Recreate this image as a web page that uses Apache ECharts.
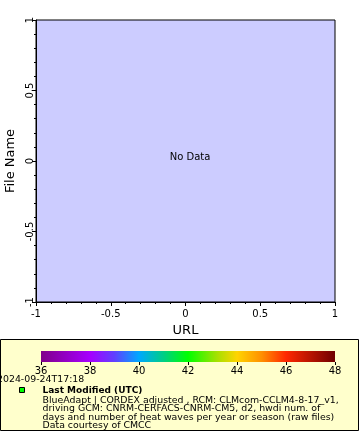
<!DOCTYPE html>
<html><head><meta charset="utf-8">
<script src="https://cdn.jsdelivr.net/npm/echarts@6/dist/echarts.min.js"></script>
<style>html,body{margin:0;padding:0;background:#fff}#c{width:360px;height:440px}</style>
</head><body><div id="c"></div>
<script>
// Data
const xTicks = [-1, -0.5, 0, 0.5, 1];
const yTicks = [-1, -0.5, 0, 0.5, 1];
const colorbarTicks = [36, 38, 40, 42, 44, 46, 48];
const colorbarRange = [36, 48];
const colorStops = [
  [0.000, '#80008a'], [0.167, '#a600ff'], [0.250, '#6040ff'], [0.333, '#00a8ff'],
  [0.420, '#00d080'], [0.500, '#00ff00'], [0.600, '#a8e000'], [0.667, '#ffd400'],
  [0.750, '#ff9000'], [0.833, '#ff2800'], [1.000, '#700000']
];
const infoLines = [
  'BlueAdapt | CORDEX adjusted , RCM: CLMcom-CCLM4-8-17_v1,',
  'driving GCM: CNRM-CERFACS-CNRM-CM5, d2, hwdi num. of',
  'days and number of heat waves per year or season (raw files)',
  'Data courtesy of CMCC'
];
const FONT = 'DejaVu Sans';
const chart = echarts.init(document.getElementById('c'), null, {renderer: 'canvas'});
const fmt = v => String(v);
const graphics = [
  {type: 'rect', z: -10, shape: {x: 0.5, y: 339.5, width: 358, height: 91}, style: {fill: '#ffffcc', stroke: '#000', lineWidth: 1}},
  {type: 'text', x: 190, y: 157, style: {text: 'No Data', font: '10px "' + FONT + '"', fill: '#000', align: 'center', verticalAlign: 'middle'}},
  {type: 'text', x: -3, y: 379.5, style: {text: '2024-09-24T17:18', font: '9.4px "' + FONT + '"', fill: '#000', align: 'left', verticalAlign: 'middle'}},
  {type: 'rect', shape: {x: 19.5, y: 387.5, width: 5, height: 5}, style: {fill: '#00ff00', stroke: '#000', lineWidth: 1}},
  {type: 'text', x: 42.5, y: 390.5, style: {text: 'Last Modified (UTC)', font: 'bold 9px "' + FONT + '"', fill: '#000', align: 'left', verticalAlign: 'middle'}}
];
infoLines.forEach((t, i) => graphics.push({type: 'text', x: 42.5, y: 400.5 + i * 8.4, style: {text: t, font: '9.4px "' + FONT + '"', fill: '#000', align: 'left', verticalAlign: 'middle'}}));

const gridBase = {outerBoundsMode: 'none', containLabel: false};
chart.setOption({
  animation: false,
  backgroundColor: '#fff',
  textStyle: {fontFamily: FONT},
  grid: [
    Object.assign({left: 36, top: 20, width: 299, height: 282, show: true, backgroundColor: '#ccccff', borderColor: '#000', borderWidth: 1}, gridBase),
    Object.assign({left: 41, top: 351, width: 294, height: 11, show: false}, gridBase)
  ],
  xAxis: [
    {type: 'value', gridIndex: 0, min: xTicks[0], max: xTicks[xTicks.length - 1], interval: 0.5,
     name: 'URL', nameLocation: 'middle', nameGap: 21, nameTextStyle: {fontSize: 13, color: '#000', fontFamily: FONT},
     axisLine: {show: true, onZero: false, lineStyle: {color: '#000'}},
     axisTick: {show: true, length: 4, lineStyle: {color: '#000'}},
     minorTick: {show: true, splitNumber: 5, length: 2, lineStyle: {color: '#000'}},
     splitLine: {show: false},
     axisLabel: {fontSize: 10, color: '#000', margin: 7, formatter: fmt, fontFamily: FONT}},
    {type: 'value', gridIndex: 1, min: colorbarRange[0], max: colorbarRange[1], interval: 2,
     axisLine: {show: false, onZero: false},
     axisTick: {show: true, length: 3, lineStyle: {color: '#000'}},
     splitLine: {show: false},
     axisLabel: {fontSize: 10, color: '#000', margin: 4, fontFamily: FONT}}
  ],
  yAxis: [
    {type: 'value', gridIndex: 0, min: yTicks[0], max: yTicks[yTicks.length - 1], interval: 0.5,
     name: 'File Name', nameLocation: 'middle', nameGap: 14, nameTextStyle: {fontSize: 13, color: '#000', fontFamily: FONT},
     axisLine: {show: true, onZero: false, lineStyle: {color: '#000'}},
     axisTick: {show: true, length: 4, lineStyle: {color: '#000'}},
     minorTick: {show: true, splitNumber: 5, length: 2, lineStyle: {color: '#000'}},
     splitLine: {show: false},
     axisLabel: {fontSize: 10, color: '#000', margin: 1, rotate: 90, formatter: fmt, fontFamily: FONT}},
    {type: 'value', gridIndex: 1, min: 0, max: 1, show: false}
  ],
  graphic: graphics,
  series: [
    {type: 'custom', xAxisIndex: 1, yAxisIndex: 1, silent: true,
     data: [[colorbarRange[0], colorbarRange[1]]],
     renderItem: function (params, api) {
       const p0 = api.coord([api.value(0), 1]);
       const p1 = api.coord([api.value(1), 0]);
       return {type: 'rect', shape: {x: p0[0], y: p0[1], width: p1[0] - p0[0], height: p1[1] - p0[1]},
         style: {fill: new echarts.graphic.LinearGradient(0, 0, 1, 0, colorStops.map(s => ({offset: s[0], color: s[1]})))}};
     }}
  ]
});
</script></body></html>
